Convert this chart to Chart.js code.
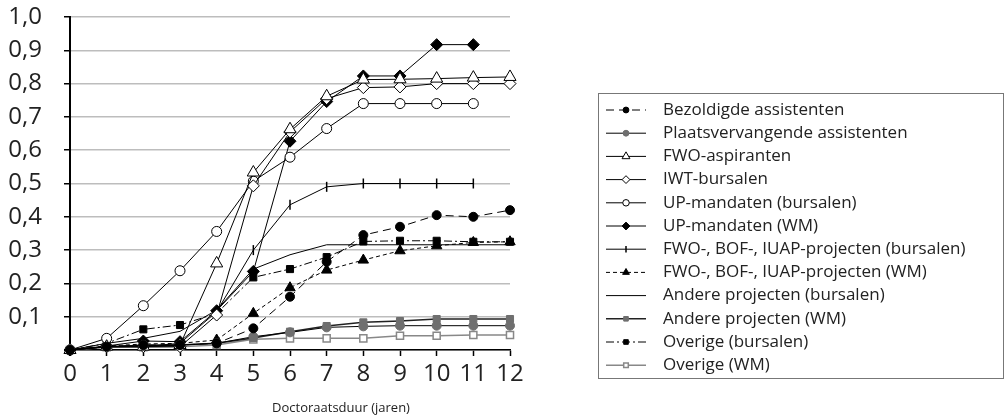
<!DOCTYPE html>
<html>
<head>
<meta charset="utf-8">
<script src="https://cdn.jsdelivr.net/npm/chart.js@4/dist/chart.umd.min.js"></script>
<style>
  html, body { margin: 0; padding: 0; background: #fff; }
  #wrap { width: 1005px; height: 419px; position: relative; }
</style>
</head>
<body>
<div id="wrap"><canvas id="c" width="1005" height="419"></canvas></div>
<script>
// jaren
const years = [0, 1, 2, 3, 4, 5, 6, 7, 8, 9, 10, 11, 12];

// aandeel gepromoveerden per statuut
const bezoldigde = [0, 0.01, 0.015, 0.015, 0.02, 0.065, 0.16, 0.265, 0.345, 0.37, 0.405, 0.40, 0.42];
const plaatsvervangend = [0, 0.01, 0.015, 0.015, 0.02, 0.04, 0.053, 0.068, 0.071, 0.073, 0.073, 0.073, 0.073];
const fwoAspiranten = [0, 0.01, 0.01, 0.015, 0.26, 0.533, 0.663, 0.762, 0.812, 0.813, 0.815, 0.818, 0.82];
const iwtBursalen = [0, 0.01, 0.01, 0.01, 0.105, 0.493, 0.655, 0.755, 0.788, 0.79, 0.80, 0.80, 0.80];
const upBursalen = [0, 0.035, 0.133, 0.238, 0.356, 0.507, 0.579, 0.665, 0.74, 0.74, 0.74, 0.74];
const upWM = [0, 0.012, 0.027, 0.025, 0.118, 0.236, 0.627, 0.746, 0.823, 0.823, 0.917, 0.917];
const fwoBursalen = [0, 0.01, 0.01, 0.02, 0.115, 0.30, 0.436, 0.49, 0.50, 0.50, 0.50, 0.50];
const fwoWM = [0, 0.012, 0.018, 0.02, 0.03, 0.11, 0.187, 0.24, 0.27, 0.298, 0.313, 0.323, 0.325];
const andereBursalen = [0, 0.02, 0.035, 0.056, 0.12, 0.243, 0.286, 0.316, 0.316, 0.316, 0.316, 0.316, 0.316];
const andereWM = [0, 0.01, 0.012, 0.015, 0.02, 0.036, 0.055, 0.072, 0.083, 0.087, 0.093, 0.093, 0.093];
const overigeBursalen = [0, 0.02, 0.062, 0.075, 0.11, 0.218, 0.243, 0.279, 0.326, 0.328, 0.328, 0.325, 0.325];
const overigeWM = [0, 0.008, 0.008, 0.01, 0.015, 0.032, 0.035, 0.035, 0.035, 0.043, 0.043, 0.045, 0.045];

const xTitle = "Doctoraatsduur (jaren)";

const FONT = "'Open Sans', 'DejaVu Sans', sans-serif";
const GRAY = "#6f6f6f";

function pts(vals) {
  return vals.map((v, i) => ({ x: years[i], y: v }));
}

function serie(label, vals, o) {
  return Object.assign({
    label: label,
    data: pts(vals),
    borderColor: "#000",
    borderWidth: 1,
    backgroundColor: "#000",
    pointBorderColor: "#000",
    pointBorderWidth: 1,
    pointRadius: 4,
    pointStyle: "circle",
    tension: 0,
    fill: false,
    clip: false,
  }, o);
}

const datasets = [
  serie("Bezoldigde assistenten", bezoldigde, { borderDash: [8, 5], pointRadius: 4.5 }),
  serie("Plaatsvervangende assistenten", plaatsvervangend, { backgroundColor: GRAY, pointBorderColor: GRAY, pointRadius: 4.5 }),
  serie("FWO-aspiranten", fwoAspiranten, { backgroundColor: "#fff", pointStyle: "triangle", pointRadius: 7 }),
  serie("IWT-bursalen", iwtBursalen, { backgroundColor: "#fff", pointStyle: "rectRot", pointRadius: 6 }),
  serie("UP-mandaten (bursalen)", upBursalen, { backgroundColor: "#fff", pointRadius: 5 }),
  serie("UP-mandaten (WM)", upWM, { pointStyle: "rectRot", pointRadius: 6 }),
  serie("FWO-, BOF-, IUAP-projecten (bursalen)", fwoBursalen, { pointStyle: "line", pointRotation: 90, pointRadius: 5, pointBorderWidth: 1.5 }),
  serie("FWO-, BOF-, IUAP-projecten (WM)", fwoWM, { borderDash: [4, 3], pointStyle: "triangle", pointRadius: 6 }),
  serie("Andere projecten (bursalen)", andereBursalen, { pointRadius: 0 }),
  serie("Andere projecten (WM)", andereWM, { borderColor: "#222", backgroundColor: GRAY, pointBorderColor: GRAY, pointStyle: "rect", pointRadius: 5, borderWidth: 1.5 }),
  serie("Overige (bursalen)", overigeBursalen, { borderDash: [8, 3, 2, 3], pointStyle: "rect", pointRadius: 5 }),
  serie("Overige (WM)", overigeWM, { borderColor: "#888", borderWidth: 1.5, backgroundColor: "#fff", pointBorderColor: "#888", pointStyle: "rect", pointRadius: 5, pointBorderWidth: 1.5 }),
];

// legenda in een kader rechts + titel x-as
const boxLegend = {
  id: "boxLegend",
  afterDraw(chart) {
    const ctx = chart.ctx;
    const left = 598, top = 93, right = 1003, bottom = 378;
    const rowTop = 110, rowH = 23.2;
    ctx.save();
    ctx.strokeStyle = "#777";
    ctx.lineWidth = 1;
    ctx.strokeRect(left + 0.5, top + 0.5, right - left, bottom - top);
    chart.data.datasets.forEach((ds, i) => {
      const y = rowTop + i * rowH;
      ctx.save();
      ctx.strokeStyle = ds.borderColor;
      ctx.lineWidth = ds.borderWidth;
      ctx.setLineDash(ds.borderDash || []);
      ctx.beginPath();
      ctx.moveTo(606, y);
      ctx.lineTo(646, y);
      ctx.stroke();
      ctx.restore();
      if (ds.pointRadius > 0) {
        ctx.save();
        ctx.fillStyle = ds.backgroundColor;
        ctx.strokeStyle = ds.pointBorderColor;
        ctx.lineWidth = ds.pointBorderWidth;
        ctx.setLineDash([]);
        Chart.helpers.drawPoint(ctx, {
          pointStyle: ds.pointStyle,
          rotation: ds.pointRotation || 0,
          radius: ds.pointRadius * 0.65,
          borderWidth: ds.pointBorderWidth,
        }, 626, y);
        ctx.restore();
      }
      ctx.fillStyle = "#222";
      ctx.font = "17px " + FONT;
      ctx.textAlign = "left";
      ctx.textBaseline = "middle";
      ctx.fillText(ds.label, 663, y);
    });
    ctx.fillStyle = "#222";
    ctx.font = "13px " + FONT;
    ctx.textAlign = "center";
    ctx.textBaseline = "middle";
    ctx.fillText(xTitle, 341, 408);
    ctx.restore();
  },
};

new Chart(document.getElementById("c"), {
  type: "line",
  data: { datasets },
  options: {
    responsive: false,
    animation: false,
    layout: { padding: { left: 0, top: 17, right: 495, bottom: 0 } },
    plugins: { legend: { display: false }, tooltip: { enabled: false } },
    scales: {
      x: {
        type: "linear",
        min: 0,
        max: 12,
        afterFit(s) { s.height = 69; s.paddingLeft = 0; s.paddingRight = 0; },
        ticks: { stepSize: 1, autoSkip: false, maxRotation: 0, color: "#222", padding: 4, font: { family: FONT, size: 24 } },
        grid: { drawOnChartArea: false, drawTicks: true, tickLength: 6, tickColor: "#000", tickWidth: 1.5 },
        border: { color: "#000", width: 1.5 },
      },
      y: {
        min: 0,
        max: 1,
        afterFit(s) { s.width = 70; s.paddingTop = 0; s.paddingBottom = 0; },
        ticks: {
          stepSize: 0.1,
          autoSkip: false,
          color: "#222",
          padding: 22,
          font: { family: FONT, size: 24 },
          callback: (v) => (Math.abs(v) < 1e-9 ? "" : v.toFixed(1).replace(".", ",")),
        },
        grid: { color: "#bdbdbd", lineWidth: 1.5, tickLength: 6, tickColor: "#000", tickWidth: 1.5 },
        border: { color: "#000", width: 2 },
      },
    },
  },
  plugins: [boxLegend],
});
</script>
</body>
</html>
